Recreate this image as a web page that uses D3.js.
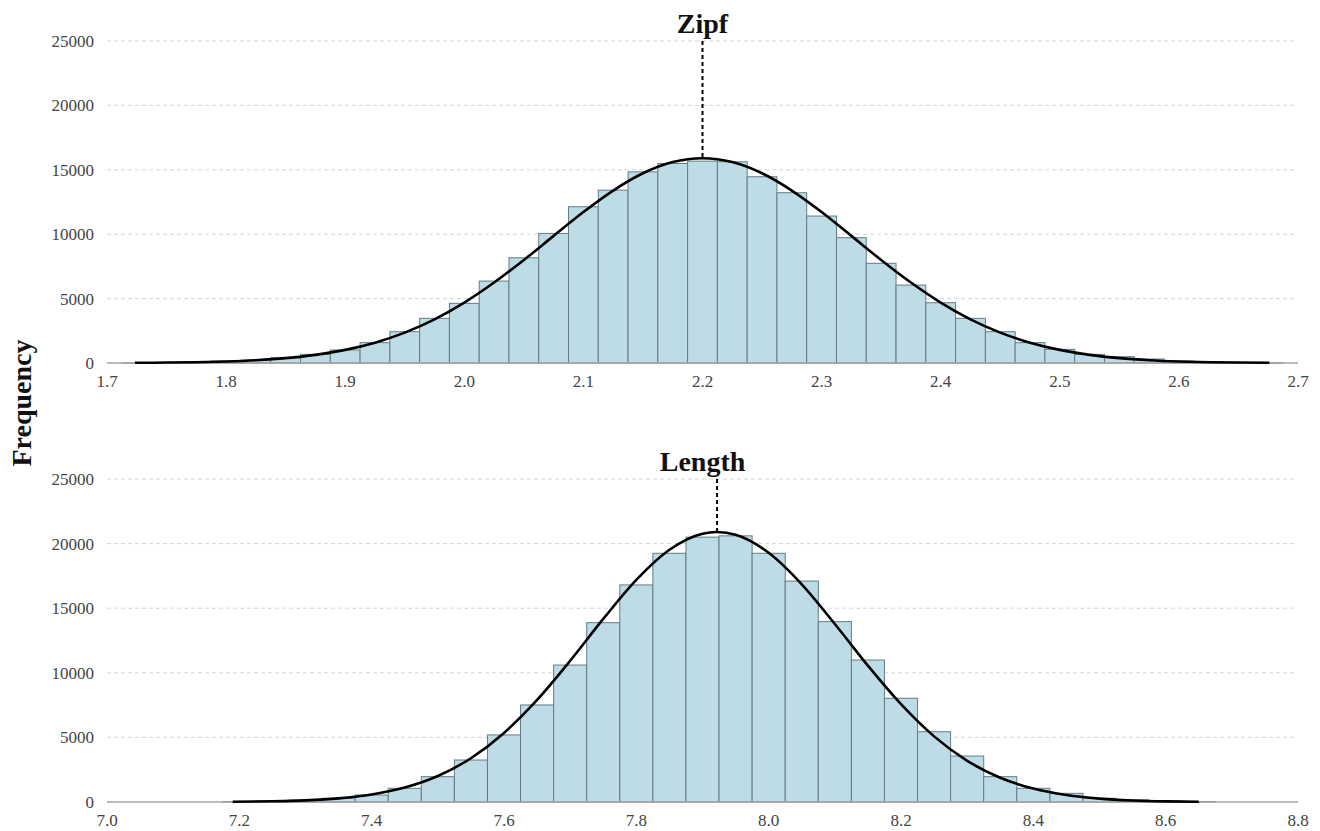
<!DOCTYPE html>
<html lang="en">
<head>
  <meta charset="UTF-8">
  <title>Zipf and Length histograms</title>
  <script src="https://d3js.org/d3.v7.min.js"></script>
  <style>
    body {
      margin: 0;
      padding: 0;
      background-color: #fff;
      font-family: "Liberation Serif", "Times New Roman", serif;
    }
    .tick-label {
      font-size: 17px;
      fill: #444;
    }
    .panel-title {
      font-size: 28px;
      font-weight: bold;
      fill: #111;
    }
  </style>
</head>
<body>
  <svg id="chart"></svg>

  <script>
    // ---- data ----
    const yTicks = [0, 5000, 10000, 15000, 20000, 25000];

    // Zipf panel: bin centres (width 0.025) and counts
    const zipfBins = [1.725, 1.75, 1.775, 1.8, 1.825, 1.85, 1.875, 1.9, 1.925, 1.95, 1.975,
      2.0, 2.025, 2.05, 2.075, 2.1, 2.125, 2.15, 2.175, 2.2, 2.225, 2.25, 2.275, 2.3, 2.325,
      2.35, 2.375, 2.4, 2.425, 2.45, 2.475, 2.5, 2.525, 2.55, 2.575, 2.6, 2.625, 2.65, 2.675];
    const zipfCounts = [15, 40, 80, 150, 230, 410, 670, 1010, 1580, 2430, 3470,
      4630, 6360, 8170, 10060, 12130, 13420, 14840, 15490, 15670, 15620, 14460, 13220, 11410, 9730,
      7740, 6050, 4680, 3470, 2430, 1580, 1060, 670, 490, 310, 150, 80, 40, 15];
    const zipfCurveX = [1.7235, 1.75, 1.775, 1.8, 1.825, 1.85, 1.875, 1.9, 1.925, 1.95, 1.975,
      2.0, 2.025, 2.05, 2.075, 2.1, 2.125, 2.15, 2.175, 2.2, 2.225, 2.25, 2.275, 2.3, 2.325,
      2.35, 2.375, 2.4, 2.425, 2.45, 2.475, 2.5, 2.525, 2.55, 2.575, 2.6, 2.625, 2.65, 2.676];
    const zipfCurveY = [15, 33, 64, 120, 217, 378, 633, 1020, 1580, 2360, 3390,
      4690, 6245, 8000, 9870, 11720, 13390, 14730, 15600, 15900, 15600, 14730, 13390, 11720, 9870,
      8000, 6245, 4690, 3390, 2360, 1580, 1020, 633, 378, 217, 120, 64, 33, 15];
    const zipfXTicks = [1.7, 1.8, 1.9, 2.0, 2.1, 2.2, 2.3, 2.4, 2.5, 2.6, 2.7];
    const zipfMean = 2.2;

    // Length panel: bin centres (width 0.05) and counts
    const lengthBins = [7.2, 7.25, 7.3, 7.35, 7.4, 7.45, 7.5, 7.55, 7.6, 7.65, 7.7, 7.75, 7.8,
      7.85, 7.9, 7.95, 8.0, 8.05, 8.1, 8.15, 8.2, 8.25, 8.3, 8.35, 8.4, 8.45, 8.5, 8.55, 8.6, 8.65];
    const lengthCounts = [30, 80, 150, 290, 540, 1060, 1960, 3250, 5190, 7510, 10600, 13880, 16800,
      19250, 20500, 20600, 19250, 17100, 13960, 10990, 8030, 5440, 3560, 1960, 1060, 670, 290, 170, 80, 30];
    const lengthCurveX = [7.19, 7.25, 7.3, 7.35, 7.4, 7.45, 7.5, 7.55, 7.6, 7.65, 7.7, 7.75, 7.8,
      7.85, 7.9, 7.922, 7.95, 8.0, 8.05, 8.1, 8.15, 8.2, 8.25, 8.3, 8.35, 8.4, 8.45, 8.5, 8.55, 8.6, 8.65];
    const lengthCurveY = [18, 55, 129, 283, 581, 1117, 2009, 3387, 5346, 7900, 10930, 14170, 17190,
      19520, 20770, 20900, 20690, 19290, 16850, 13780, 10550, 7570, 5080, 3190, 1879, 1036, 535, 258, 117, 50, 20];
    const lengthXTicks = [7.0, 7.2, 7.4, 7.6, 7.8, 8.0, 8.2, 8.4, 8.6, 8.8];
    const lengthMean = 7.922;

    // ---- layout ----
    const width = 1320, height = 831;
    const svg = d3.select("#chart").attr("width", width).attr("height", height);
    svg.append("rect").attr("width", width).attr("height", height).attr("fill", "#fff");

    const plotLeft = 107, plotRight = 1298;

    // shared y label
    svg.append("text")
      .attr("transform", "translate(31,403) rotate(-90)")
      .attr("text-anchor", "middle")
      .attr("font-size", "28px")
      .attr("font-weight", "bold")
      .attr("fill", "#111")
      .text("Frequency");

    function drawPanel(opt) {
      const x = d3.scaleLinear().domain(opt.xDomain).range([plotLeft, plotRight]);
      const y = d3.scaleLinear().domain([0, 25000]).range([opt.bottom, opt.top]);
      const g = svg.append("g");

      // dashed horizontal grid
      g.selectAll("line.grid")
        .data(yTicks.filter(t => t > 0))
        .enter().append("line")
        .attr("class", "grid")
        .attr("x1", plotLeft).attr("x2", plotRight - 2)
        .attr("y1", d => y(d)).attr("y2", d => y(d))
        .attr("stroke", "#d4d4d4")
        .attr("stroke-width", 1)
        .attr("stroke-dasharray", "4,3");

      // y tick labels
      g.selectAll("text.ylab")
        .data(yTicks)
        .enter().append("text")
        .attr("class", "tick-label")
        .attr("x", 94)
        .attr("y", d => y(d))
        .attr("dy", "0.35em")
        .attr("text-anchor", "end")
        .text(d => d);

      // histogram bars
      const half = opt.binWidth / 2;
      g.selectAll("rect.bar")
        .data(opt.bins.map((c, i) => ({ c: c, v: opt.counts[i] })))
        .enter().append("rect")
        .attr("class", "bar")
        .attr("x", d => x(d.c - half))
        .attr("width", d => x(d.c + half) - x(d.c - half))
        .attr("y", d => y(d.v))
        .attr("height", d => y(0) - y(d.v))
        .attr("fill", "#bedce6")
        .attr("stroke", "#627c86")
        .attr("stroke-width", 1);

      // baseline
      g.append("line")
        .attr("x1", plotLeft).attr("x2", plotRight)
        .attr("y1", y(0)).attr("y2", y(0))
        .attr("stroke", "#a6a6a6")
        .attr("stroke-width", 1.5);

      // x tick labels
      g.selectAll("text.xlab")
        .data(opt.xTicks)
        .enter().append("text")
        .attr("class", "tick-label")
        .attr("x", d => x(d))
        .attr("y", y(0) + 24)
        .attr("text-anchor", "middle")
        .text(d => d.toFixed(1));

      // fitted curve
      const pts = opt.curveX.map((cx, i) => [cx, opt.curveY[i]]);
      g.append("path")
        .datum(pts)
        .attr("fill", "none")
        .attr("stroke", "#000")
        .attr("stroke-width", 2.6)
        .attr("d", d3.line().x(d => x(d[0])).y(d => y(d[1])).curve(d3.curveMonotoneX));

      // dashed line from the peak up to the title
      const peak = d3.max(opt.curveY);
      g.append("line")
        .attr("x1", x(opt.mean)).attr("x2", x(opt.mean))
        .attr("y1", y(25000)).attr("y2", y(peak))
        .attr("stroke", "#000")
        .attr("stroke-width", 2)
        .attr("stroke-dasharray", "4,3");

      // panel title
      g.append("text")
        .attr("class", "panel-title")
        .attr("x", (plotLeft + plotRight) / 2)
        .attr("y", opt.titleY)
        .attr("text-anchor", "middle")
        .text(opt.title);
    }

    drawPanel({
      title: "Zipf", titleY: 33, top: 41, bottom: 363,
      xDomain: [1.7, 2.7], xTicks: zipfXTicks, binWidth: 0.025,
      bins: zipfBins, counts: zipfCounts,
      curveX: zipfCurveX, curveY: zipfCurveY, mean: zipfMean
    });

    drawPanel({
      title: "Length", titleY: 471, top: 479, bottom: 802,
      xDomain: [7.0, 8.8], xTicks: lengthXTicks, binWidth: 0.05,
      bins: lengthBins, counts: lengthCounts,
      curveX: lengthCurveX, curveY: lengthCurveY, mean: lengthMean
    });
  </script>
</body>
</html>
